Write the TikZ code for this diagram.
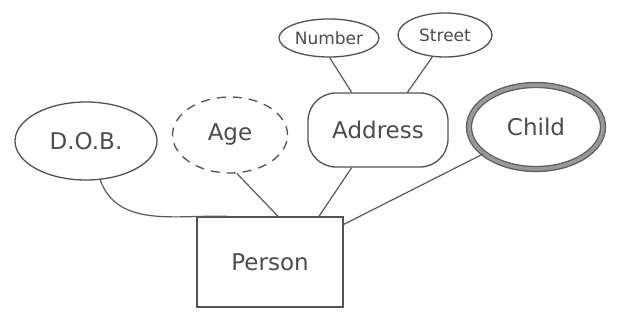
\documentclass[tikz,border=0pt]{standalone}
\usepackage{fontspec}
\setmainfont{DejaVu Sans}
\usetikzlibrary{shapes.geometric}
\begin{document}
\begin{tikzpicture}[x=1pt,y=-1pt,
  ink/.style={draw=black!68, line width=1.3pt},
  txt/.style={text=black!70, font=\fontsize{23}{26}\selectfont},
  small/.style={text=black!70, font=\fontsize{17}{20}\selectfont},
  attr/.style={ellipse, ink, inner sep=0pt},
  conn/.style={draw=black!65, line width=1.2pt}]
\useasboundingbox[fill=white] (0,0) rectangle (621,326);
\node[attr, small, minimum width=100pt, minimum height=38pt] (num) at (329,38) {Number};
\node[attr, small, minimum width=94pt, minimum height=44pt] (street) at (445,35) {Street};
\node[attr, txt, minimum width=142pt, minimum height=78pt] (dob) at (86,141) {D.O.B.};
\node[attr, txt, dashed, dash pattern=on 9pt off 7pt, minimum width=115pt, minimum height=76pt] (age) at (230,135) {Age};
\node[rectangle, rounded corners=28pt, ink, txt, minimum width=140pt, minimum height=74pt] (addr) at (378,130) {Address};
\node[ellipse, txt, draw=black!62, line width=1.4pt, double=black!40, double distance=3.5pt, minimum width=134pt, minimum height=84pt] (child) at (536,127) {Child};
\node[rectangle, ink, txt, minimum width=146pt, minimum height=90pt] (person) at (270,262) {Person};
\draw[conn] (num.-88) -- (addr.125);
\draw[conn] (street.-120) -- (addr.52);
\draw[conn] (dob.-70) to[out=-70,in=178] (person.133);
\draw[conn] (age.-80) -- (person.80);
\draw[conn] (addr.-125) -- (person.43);
\draw[conn] (child.207) -- (person.27);
\end{tikzpicture}
\end{document}
